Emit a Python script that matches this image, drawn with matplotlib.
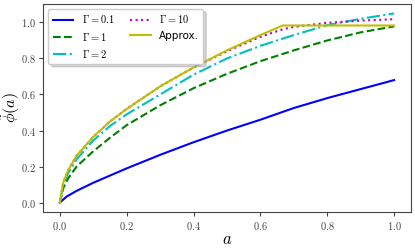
import numpy as np
import matplotlib
matplotlib.use("Agg")
import matplotlib.pyplot as plt
from matplotlib.ticker import FuncFormatter

plt.rcParams['mathtext.fontset'] = 'cm'

# --- values ---
a_g01 = [0, 0.02, 0.05, 0.1, 0.2, 0.3, 0.4, 0.5, 0.6, 0.7, 0.8, 0.9, 1.0]
phi_g01 = [0, 0.033, 0.065, 0.11, 0.19, 0.265, 0.335, 0.40, 0.46, 0.525, 0.58, 0.63, 0.68]

a_g1 = [0, 0.01, 0.025, 0.05, 0.1, 0.15, 0.2, 0.3, 0.4, 0.5, 0.6, 0.7, 0.8, 0.9, 1.0]
phi_g1 = [0, 0.08, 0.135, 0.2, 0.285, 0.36, 0.43, 0.54, 0.635, 0.715, 0.785, 0.845, 0.9, 0.945, 0.978]

a_g2 = [0, 0.01, 0.025, 0.05, 0.1, 0.15, 0.2, 0.3, 0.4, 0.5, 0.6, 0.7, 0.8, 0.9, 1.0]
phi_g2 = [0, 0.10, 0.165, 0.24, 0.345, 0.425, 0.49, 0.60, 0.71, 0.80, 0.87, 0.93, 0.985, 1.02, 1.05]

a_g10 = [0, 0.01, 0.025, 0.05, 0.1, 0.15, 0.2, 0.3, 0.4, 0.5, 0.6, 0.667, 0.7, 0.8, 0.9, 1.0]
phi_g10 = [0, 0.11, 0.18, 0.26, 0.365, 0.45, 0.52, 0.645, 0.75, 0.84, 0.92, 0.962, 0.975, 0.998, 1.01, 1.018]

a_apx = [0, 0.01, 0.025, 0.05, 0.1, 0.15, 0.2, 0.3, 0.4, 0.5, 0.6, 0.667, 1.0]
phi_apx = [0, 0.11, 0.18, 0.26, 0.365, 0.45, 0.52, 0.645, 0.75, 0.845, 0.93, 0.983, 0.983]

labels = [r'$\Gamma=0.1$', r'$\Gamma=1$', r'$\Gamma=2$', r'$\Gamma=10$', 'Approx.']

fig = plt.figure(figsize=(4.15, 2.48), dpi=100)
ax = fig.add_axes([0.104, 0.145, 0.886, 0.839])

lw = 1.5
ax.plot(a_g01, phi_g01, color='b', ls='-', lw=lw, label=labels[0])
ax.plot(a_g1, phi_g1, color='g', ls='--', lw=lw, label=labels[1])
ax.plot(a_g2, phi_g2, color='c', ls='-.', lw=lw, label=labels[2])
ax.plot(a_g10, phi_g10, color='m', ls=':', lw=lw, label=labels[3])
ax.plot(a_apx, phi_apx, color='y', ls='-', lw=lw, label=labels[4])

ax.set_xticks([0, 0.2, 0.4, 0.6, 0.8, 1.0])
ax.set_yticks([0, 0.2, 0.4, 0.6, 0.8, 1.0])
fmt = FuncFormatter(lambda v, p: r'$%.1f$' % v)
ax.xaxis.set_major_formatter(fmt)
ax.yaxis.set_major_formatter(fmt)
ax.tick_params(labelsize=7.5, colors='#444444', length=3, pad=2.5)
for s in ax.spines.values():
    s.set_color('#444444')

ax.set_xlabel(r'$a$', fontsize=12)
ax.set_ylabel(r'$\tilde{\phi}(a)$', fontsize=11.5)
ax.xaxis.set_label_coords(0.5, -0.085)
ax.yaxis.set_label_coords(-0.057, 0.5)

ax.legend(loc='upper left', ncol=2, fontsize=7.5, columnspacing=1.5,
          shadow={'color': '0.6', 'alpha': 0.4})

plt.savefig("out.png", dpi=100)
